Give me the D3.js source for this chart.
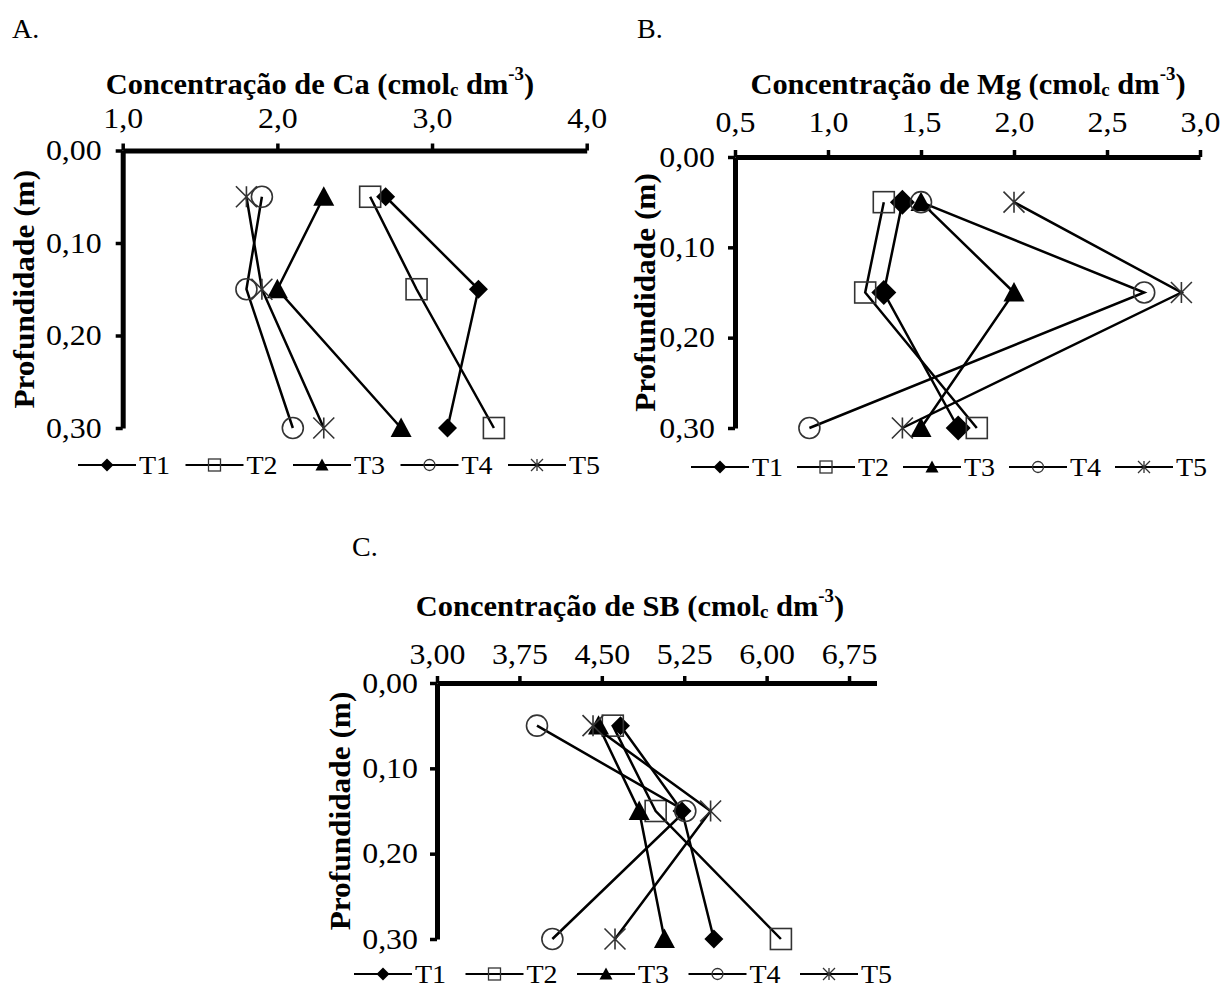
<!DOCTYPE html>
<html><head><meta charset="utf-8">
<script src="https://cdn.jsdelivr.net/npm/d3@7"></script>
<style>html,body{margin:0;padding:0;background:#fff}svg{display:block}</style>
</head><body>
<svg id="c" width="1225" height="989"></svg>
<script>
// ---- data ----
const depths = [0.05, 0.15, 0.30];
const seriesNames = ["T1", "T2", "T3", "T4", "T5"];
const markers = ["diamond", "square", "triangle", "circle", "star"];
const depthTicks = [0, 0.10, 0.20, 0.30];

const caTicks = [1.0, 2.0, 3.0, 4.0];
const caT1 = [2.7, 3.3, 3.1];
const caT2 = [2.6, 2.9, 3.4];
const caT3 = [2.3, 2.0, 2.8];
const caT4 = [1.9, 1.8, 2.1];
const caT5 = [1.8, 1.9, 2.3];

const mgTicks = [0.5, 1.0, 1.5, 2.0, 2.5, 3.0];
const mgT1 = [1.4, 1.3, 1.7];
const mgT2 = [1.3, 1.2, 1.8];
const mgT3 = [1.5, 2.0, 1.5];
const mgT4 = [1.5, 2.7, 0.9];
const mgT5 = [2.0, 2.9, 1.4];

const sbTicks = [3.00, 3.75, 4.50, 5.25, 6.00, 6.75];
const sbT1 = [4.67, 5.23, 5.52];
const sbT2 = [4.60, 4.99, 6.13];
const sbT3 = [4.47, 4.84, 5.07];
const sbT4 = [3.91, 5.26, 4.05];
const sbT5 = [4.42, 5.49, 4.62];

// ---- layout ----
const svg = d3.select("#c");
const FONT = "'Liberation Serif','Times New Roman',serif";

const panels = [
  {letter:"A.", lx:12, ly:38, el:"Ca", xDomain:[1,4], ticks:caTicks, fmt:".1f",
   series:[caT1,caT2,caT3,caT4,caT5], xr:[122.7,586.7], yr:[150.5,428],
   titleX:320, titleY:84, xLabOff:33, yTitleX:24, yLabGap:21,
   legX:78, legPitch:107.5, legY:465, mSize:[19,21,21,21,21]},
  {letter:"B.", lx:637, ly:38, el:"Mg", xDomain:[0.5,3], ticks:mgTicks, fmt:".1f",
   series:[mgT1,mgT2,mgT3,mgT4,mgT5], xr:[735,1200], yr:[157,428],
   titleX:968, titleY:84, xLabOff:35, yTitleX:645, yLabGap:20,
   legX:691, legPitch:106, legY:467, mSize:[25,21,21,21,21]},
  {letter:"C.", lx:352, ly:556, el:"SB", xDomain:[3,7], ticks:sbTicks, fmt:".2f",
   series:[sbT1,sbT2,sbT3,sbT4,sbT5], xr:[437,876.5], yr:[683,939],
   titleX:630, titleY:606, xLabOff:29, yTitleX:340, yLabGap:19,
   legX:354, legPitch:111.5, legY:974, mSize:[19,21,21,21,21]}
];

function stretch(sel, k) {
  sel.each(function() {
    const L = this.getComputedTextLength();
    d3.select(this).attr("textLength", L * k).attr("lengthAdjust", "spacingAndGlyphs");
  });
}

function drawMarker(g, type, cx, cy, s, legend) {
  const h = s/2;
  const openStroke = "#333";
  const sw = legend ? 1.3 : 1.6;
  if (type === "diamond") {
    g.append("path").attr("d", `M${cx},${cy-h}L${cx+h},${cy}L${cx},${cy+h}L${cx-h},${cy}Z`).attr("fill","#000");
  } else if (type === "square") {
    g.append("rect").attr("x",cx-h).attr("y",cy-h).attr("width",s).attr("height",s)
      .attr("fill","none").attr("stroke",openStroke).attr("stroke-width",sw);
  } else if (type === "triangle") {
    g.append("path").attr("d", `M${cx},${cy-h}L${cx+h},${cy+h*0.85}L${cx-h},${cy+h*0.85}Z`).attr("fill","#000");
  } else if (type === "circle") {
    g.append("circle").attr("cx",cx).attr("cy",cy).attr("r",h)
      .attr("fill","none").attr("stroke",openStroke).attr("stroke-width",sw);
  } else if (type === "star") {
    const p = `M${cx},${cy-h}L${cx},${cy+h}M${cx-h},${cy-h}L${cx+h},${cy+h}M${cx-h},${cy+h}L${cx+h},${cy-h}`;
    g.append("path").attr("d", p).attr("fill","none").attr("stroke",openStroke).attr("stroke-width",sw);
  }
}

function commaFmt(f) { const d = d3.format(f); return v => d(v).replace(".", ","); }

panels.forEach(p => {
  const x = d3.scaleLinear().domain(p.xDomain).range(p.xr);
  const y = d3.scaleLinear().domain([0,0.30]).range(p.yr);
  const g = svg.append("g");

  // panel letter
  g.append("text").attr("x",p.lx).attr("y",p.ly).attr("font-family",FONT).attr("font-size",28).text(p.letter);

  // title
  const t = g.append("text").attr("x",p.titleX).attr("y",p.titleY).attr("text-anchor","middle")
    .attr("dominant-baseline","central").attr("font-family",FONT).attr("font-size",29).attr("font-weight","bold");
  t.append("tspan").text(`Concentração de ${p.el} (cmol`);
  t.append("tspan").attr("font-size",18).attr("dy",6).text("c");
  t.append("tspan").attr("dy",-6).text(" dm");
  t.append("tspan").attr("font-size",18).attr("dy",-10).text("-3");
  t.append("tspan").attr("dy",10).text(")");
  stretch(t, 1.05);

  // y title
  const yt = g.append("text").attr("transform",`translate(${p.yTitleX},${(p.yr[0]+p.yr[1])/2}) rotate(-90)`)
    .attr("text-anchor","middle").attr("dominant-baseline","central")
    .attr("font-family",FONT).attr("font-size",29).attr("font-weight","bold").text("Profundidade  (m)");
  stretch(yt, 1.08);

  // axes
  const xa = g.append("g").attr("transform",`translate(0,${p.yr[0]})`)
    .call(d3.axisTop(x).tickValues(p.ticks).tickFormat(commaFmt(p.fmt)).tickSizeOuter(0).tickSizeInner(7));
  const ya = g.append("g").attr("transform",`translate(${p.xr[0]},0)`)
    .call(d3.axisLeft(y).tickValues(depthTicks).tickFormat(commaFmt(".2f")).tickSizeOuter(0).tickSizeInner(7));
  [xa, ya].forEach(a => {
    a.select(".domain").attr("stroke","#000").attr("stroke-width",5);
    a.selectAll(".tick line").attr("stroke","#000").attr("stroke-width",3.5);
    a.selectAll(".tick text").attr("font-family",FONT).attr("font-size",29).attr("fill","#000");
  });
  xa.selectAll(".tick text").attr("y", -p.xLabOff).attr("dy","0.35em");
  ya.selectAll(".tick text").attr("x", -p.yLabGap);
  stretch(xa.selectAll(".tick text"), 1.1);
  stretch(ya.selectAll(".tick text"), 1.1);

  // series
  const line = d3.line().x(d => x(d[0])).y(d => y(d[1]));
  p.series.forEach((vals, i) => {
    const pts = vals.map((v, k) => [v, depths[k]]);
    const sg = g.append("g");
    sg.append("path").attr("d", line(pts)).attr("fill","none").attr("stroke","#000").attr("stroke-width",2.5);
    pts.forEach(d => drawMarker(sg, markers[i], x(d[0]), y(d[1]), p.mSize[i], false));
  });

  // legend
  seriesNames.forEach((name, i) => {
    const lx = p.legX + i * p.legPitch;
    const lg = g.append("g");
    lg.append("line").attr("x1",lx).attr("x2",lx+58).attr("y1",p.legY).attr("y2",p.legY)
      .attr("stroke","#000").attr("stroke-width",2.2);
    const ms = [13,12,13,11,12][i];
    drawMarker(lg, markers[i], lx+29, p.legY, ms, true);
    const lt = lg.append("text").attr("x",lx+61).attr("y",p.legY).attr("dominant-baseline","central")
      .attr("font-family",FONT).attr("font-size",25).text(name);
    stretch(lt, 1.12);
  });
});
</script>
</body></html>
